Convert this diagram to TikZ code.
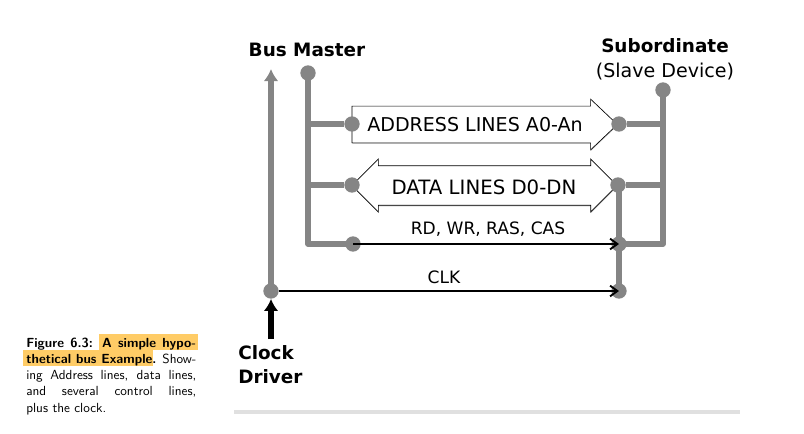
\documentclass[tikz,border=0pt]{standalone}
\usepackage{fontspec}
\setmainfont{DejaVu Sans}
\usepackage{tikz}
\usetikzlibrary{arrows.meta,positioning,shapes.arrows,shadows}
\definecolor{busgray}{HTML}{858585}
\definecolor{hilite}{HTML}{FFCC66}

\begin{document}
\begin{tikzpicture}[x=0.75pt, y=-0.75pt, >=Stealth,
  dot/.style={circle, fill=busgray, inner sep=0pt, minimum size=11.5pt},
  busline/.style={draw=busgray, line width=4pt},
  sig/.style={->, line width=1.6pt, -{Straight Barb[length=5.5pt,width=8pt,line width=1.4pt]}},
  wide/.style={draw, fill=white, line width=0.5pt, inner sep=0pt, minimum height=199pt,
    drop shadow={shadow xshift=0.2pt, shadow yshift=-0.8pt, opacity=.45}},
  lbl/.style={font=\fontsize{14.3}{17}\selectfont, inner sep=0pt},
  small/.style={font=\fontsize{12.8}{15}\selectfont, inner sep=0pt},
  head/.style={font=\fontsize{13.8}{18}\selectfont\bfseries, inner sep=0pt},
  capline/.style={font=\fontsize{9.9}{12}\sffamily, anchor=base west, inner sep=0pt}]
\useasboundingbox (0,0) rectangle (804,433);

% caption
\fill[hilite] (99,334) rectangle (198,350);
\fill[hilite] (23,350) rectangle (153,366);
\node[capline] (cap1) at (26,347) {\makebox[127.5pt][s]{\textbf{Figure 6.3: A simple hypo-}}};
\node[capline] (cap2) at (26,363) {\makebox[127.5pt][s]{\textbf{thetical bus Example.} Show-}};
\node[capline] (cap3) at (26,379) {\makebox[127.5pt][s]{ing Address lines, data lines,}};
\node[capline] (cap4) at (26,395) {\makebox[127.5pt][s]{and several control lines,}};
\node[capline] (cap5) at (26,412) {plus the clock.};

% the two wide buses
\node[wide, single arrow, single arrow tip angle=87, single arrow head extend=5.2pt,
  minimum width=38pt] (addr) at (475,124.5) {\rule{0pt}{27pt}};
\node[wide, double arrow, double arrow tip angle=90, double arrow head extend=4.9pt,
  minimum width=39.75pt] (data) at (484.5,185.5) {\rule{0pt}{28pt}};

\node[lbl] (addrtxt) at (475,125) {ADDRESS LINES A0-An};
\node[lbl, font=\fontsize{14.8}{17}\selectfont] (datatxt) at (484,187) {DATA LINES D0-DN};
\node[small] (rdtxt) at (488,229.5) {RD, WR, RAS, CAS};
\node[small] (clktxt) at (444,277) {CLK};

\node[head] (master) at (307,50) {Bus Master};
\node[head] (sub) at (665,46) {Subordinate};
\node[lbl, below=7pt of sub] (slave) {(Slave Device)};
\node[head, align=left, anchor=north west] (driver) at (238,345) {Clock\\Driver};

% dots
\node[dot] (mdot) at (308,73) {};
\node[dot] (sdot) at (663,90) {};
\node[dot] (aleft) at (352,124) {};
\node[dot] (aright) at (619,124) {};
\node[dot] (dleft) at (352,185) {};
\node[dot] (dright) at (618,185) {};
\node[dot] (cleft) at (353,244) {};
\node[dot] (cright) at (619,244) {};
\node[dot] (kleft) at (271,291) {};
\node[dot] (kright) at (619,291) {};
\coordinate (ktop) at (271,69);
\coordinate (kin) at (271,339);

\draw[busline, -{Latex[length=9pt,width=11pt]}] (kleft.center) -- (ktop);
\draw[busline, line join=round] (mdot.center) |- (cleft.center);
\draw[busline] (mdot.center |- aleft) -- (aleft);
\draw[busline] (mdot.center |- dleft) -- (dleft);
\draw[busline, line join=round] (sdot.center) |- (cright.center);
\draw[busline] (aright) -- (aright -| sdot);
\draw[busline] (dright) -- (dright -| sdot);
\draw[busline] (kright.center) -- (kright.center |- dright);

\draw[sig] (cleft.center) -- (cright.center);
\draw[sig] (kleft) -- (kright.center);
\draw[line width=4pt, -{Latex[length=9pt,width=11pt]}] (kin) -- (kleft);

% page rule
\draw[draw=black!12, line width=3pt] (234,412) -- (740,412);
\end{tikzpicture}
\end{document}
